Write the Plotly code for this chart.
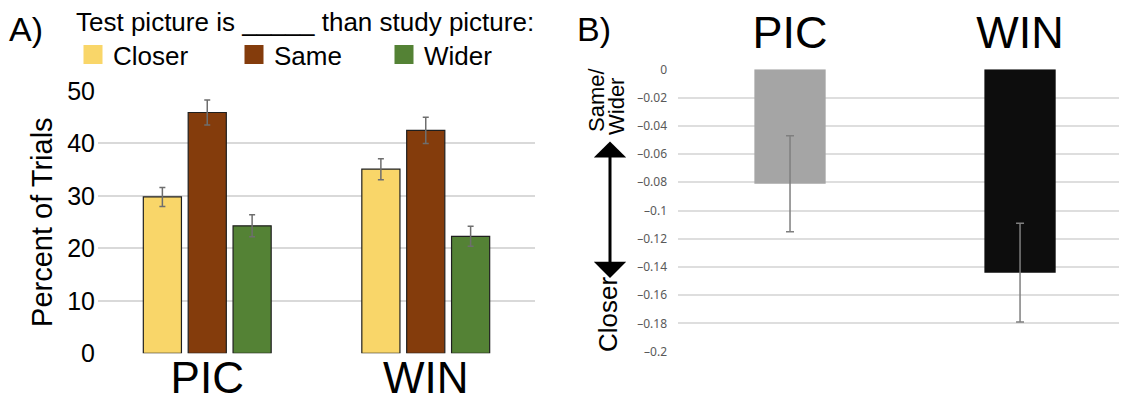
import plotly.graph_objects as go

# ---------------- data ----------------
groups = ["PIC", "WIN"]
responses = ["Closer", "Same", "Wider"]
pct_closer = [29.8, 35.1]
pct_same = [45.9, 42.5]
pct_wider = [24.3, 22.3]
err_closer = [1.8, 2.0]
err_same = [2.4, 2.5]
err_wider = [2.1, 1.9]

bias_values = [-0.081, -0.144]
bias_err = [0.034, 0.035]

a_tick_vals = [0, 10, 20, 30, 40, 50]
b_tick_vals = [0, -0.02, -0.04, -0.06, -0.08, -0.1, -0.12, -0.14, -0.16, -0.18, -0.2]
b_tick_text = ["0", "\u20130.02", "\u20130.04", "\u20130.06", "\u20130.08", "\u20130.1",
               "\u20130.12", "\u20130.14", "\u20130.16", "\u20130.18", "\u20130.2"]

colors = {"Closer": "#F9D669", "Same": "#843C0C", "Wider": "#548235"}
bias_colors = ["#A5A5A5", "#0D0D0D"]

W, H = 1127, 395
OFF = 8  # page body margin of the browser
FONT = "Liberation Sans, Arial, sans-serif"

def px(x):
    return (x - OFF) / W

def py(y):
    return 1 - (y - OFF) / H

fig = go.Figure()

series = [("Closer", pct_closer, err_closer),
          ("Same", pct_same, err_same),
          ("Wider", pct_wider, err_wider)]

for name, vals, errs in series:
    fig.add_trace(go.Bar(
        x=groups, y=vals, name=name, showlegend=False,
        marker=dict(color=colors[name], line=dict(color="#1F1F1F", width=1.2)),
        error_y=dict(type="data", array=errs, visible=True,
                     color="#6E6E6E", thickness=1.5, width=3),
        xaxis="x", yaxis="y",
    ))

# legend entries (square swatches), one legend box each
legend_ids = ["legend", "legend2", "legend3"]
legend_x = [73, 234, 384]
for name, lid in zip(responses, legend_ids):
    fig.add_trace(go.Scatter(
        x=[None], y=[None], mode="markers", name=name, legend=lid,
        marker=dict(symbol="square", size=16, color=colors[name],
                    line=dict(color=colors[name], width=3)),
        xaxis="x", yaxis="y", showlegend=True,
    ))

# panel B
fig.add_trace(go.Bar(
    x=groups, y=bias_values, showlegend=False, width=0.31,
    marker=dict(color=bias_colors, line=dict(width=0)),
    error_y=dict(type="data", array=bias_err, visible=True,
                 color="#7F7F7F", thickness=1.5, width=4),
    xaxis="x2", yaxis="y2",
))

legend_common = dict(orientation="h", xanchor="left", y=py(31), yanchor="top",
                     font=dict(size=26, family=FONT), itemsizing="trace",
                     bgcolor="rgba(0,0,0,0)", borderwidth=0)

fig.update_layout(
    width=W, height=H,
    margin=dict(l=0, r=0, t=0, b=0, autoexpand=False),
    paper_bgcolor="white", plot_bgcolor="white",
    font=dict(family=FONT, color="black"),
    barmode="group", bargap=0.384, bargroupgap=0.15,
    legend=dict(x=px(legend_x[0]), **legend_common),
    legend2=dict(x=px(legend_x[1]), **legend_common),
    legend3=dict(x=px(legend_x[2]), **legend_common),
    xaxis=dict(domain=[px(98), px(535)], range=[-0.5, 1.5], type="category",
               showgrid=False, zeroline=False, showline=False, ticks="",
               automargin=False, ticklabelstandoff=-5,
               tickfont=dict(size=44, family=FONT, color="black"), anchor="y"),
    yaxis=dict(domain=[py(353.3), py(91)], range=[0, 50], tickvals=a_tick_vals,
               showgrid=True, gridcolor="#D9D9D9", gridwidth=1.5, zeroline=False,
               showline=False, ticks="", ticklabelstandoff=2, automargin=False,
               tickfont=dict(size=25, family=FONT, color="black"), anchor="x",
               title=dict(text="Percent of Trials", font=dict(size=29, family=FONT),
                          standoff=6)),
    xaxis2=dict(domain=[px(678), px(1127)], range=[-0.487, 1.465], type="category",
                side="top", showgrid=False, zeroline=False, showline=False, ticks="",
                automargin=False,
                tickfont=dict(size=45, family=FONT, color="black"), anchor="y2",
                ticklabelstandoff=11),
    yaxis2=dict(domain=[py(351.7), py(69.3)], range=[-0.2, 0], tickvals=b_tick_vals,
                ticktext=b_tick_text, showgrid=True, gridcolor="#DEDEDE", gridwidth=1.5,
                zeroline=False, showline=False, ticks="", ticklabelstandoff=10,
                automargin=False,
                tickfont=dict(size=12, family="Noto Sans, sans-serif", color="#595959"),
                anchor="x2"),
)

annotations = [
    dict(text="A)", x=px(7), y=py(29), xref="paper", yref="paper", xanchor="left",
         yanchor="middle", showarrow=False, font=dict(size=34, family=FONT)),
    dict(text="B)", x=px(575), y=py(29), xref="paper", yref="paper", xanchor="left",
         yanchor="middle", showarrow=False, font=dict(size=34, family=FONT)),
    dict(text="Test picture is _____ than study picture:", x=px(74), y=py(22),
         xref="paper", yref="paper", xanchor="left", yanchor="middle",
         showarrow=False, font=dict(size=26, family=FONT)),
    dict(text="Same/", x=px(596), y=py(100), xref="paper", yref="paper",
         xanchor="center", yanchor="middle", showarrow=False, textangle=-90,
         font=dict(size=22, family=FONT)),
    dict(text="Wider", x=px(616), y=py(107), xref="paper", yref="paper",
         xanchor="center", yanchor="middle", showarrow=False, textangle=-90,
         font=dict(size=22, family=FONT)),
    dict(text="Closer", x=px(608), y=py(315), xref="paper", yref="paper",
         xanchor="center", yanchor="middle", showarrow=False, textangle=-90,
         font=dict(size=26, family=FONT)),
    dict(text="", x=px(610), y=-0.1478, xref="paper", yref="y2",
         ax=0, ay=-0.050, axref="pixel", ayref="y2",
         showarrow=True, arrowside="end+start", arrowhead=1, startarrowhead=1,
         arrowsize=1.8, startarrowsize=1.8, arrowwidth=3, arrowcolor="black",
         standoff=0, startstandoff=0),
]
fig.update_layout(annotations=annotations)

fig.write_html("out.html")
